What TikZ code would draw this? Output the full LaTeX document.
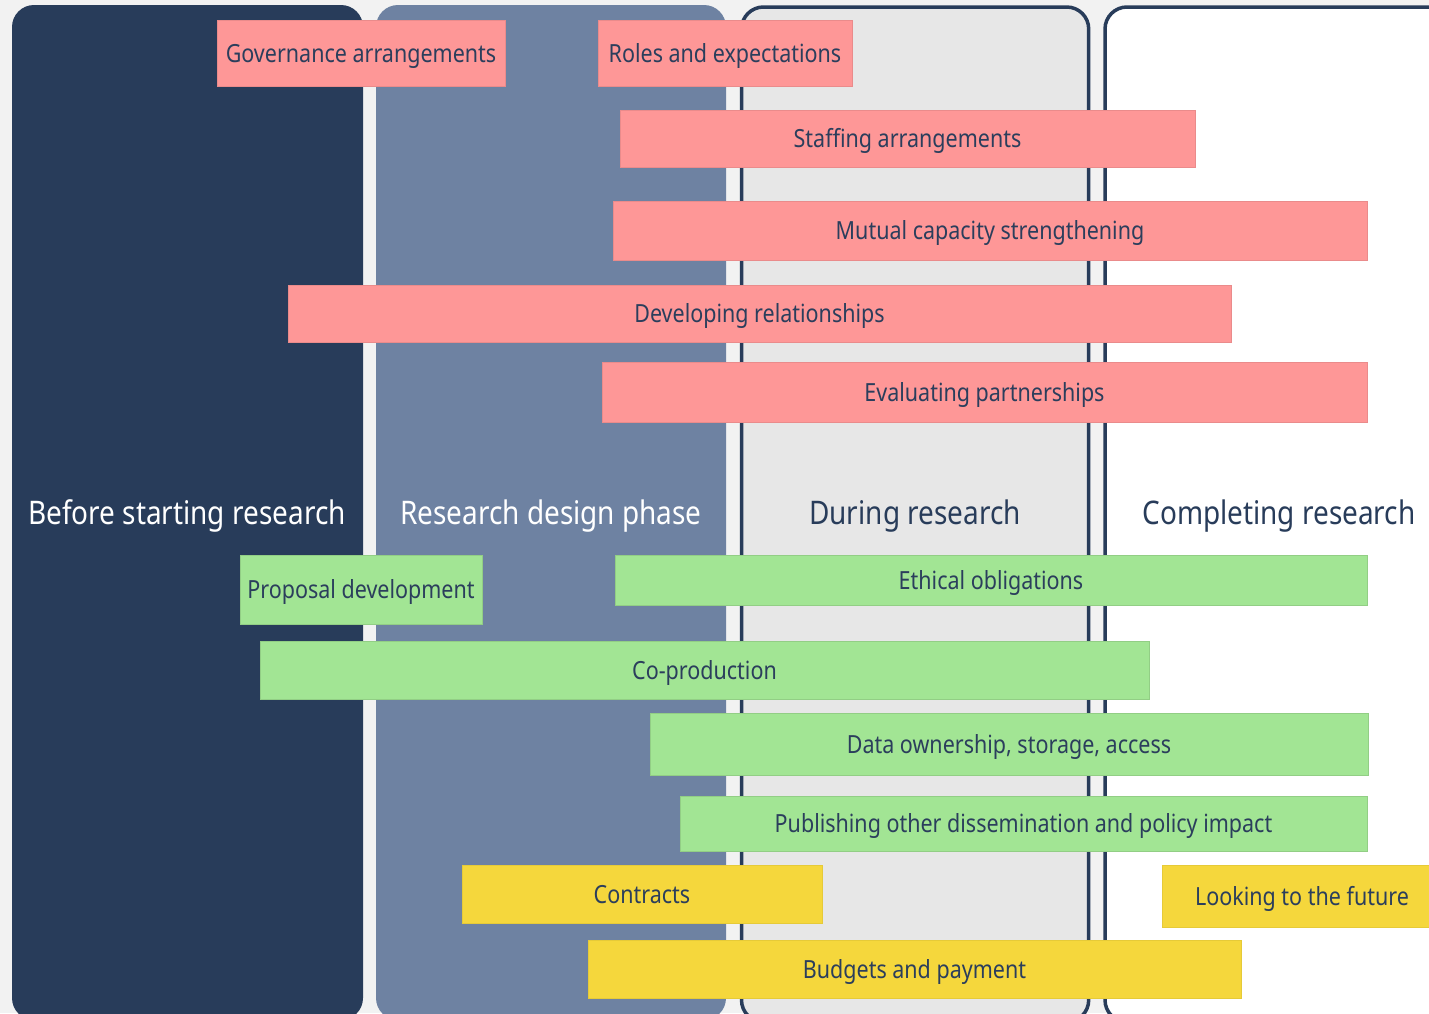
\documentclass[tikz,border=0pt]{standalone}
\usepackage{fontspec}
\setmainfont{Noto Sans}[FakeStretch=0.86]
\usepackage{tikz}

\definecolor{navy}{HTML}{283C5A}
\definecolor{slate}{HTML}{6E82A2}
\definecolor{lightgrey}{HTML}{E7E7E7}
\definecolor{bgrey}{HTML}{F2F2F2}
\definecolor{pinkfill}{HTML}{FE9797}
\definecolor{greenfill}{HTML}{A2E594}
\definecolor{yellowfill}{HTML}{F5D73C}
\definecolor{inktext}{HTML}{2B3E5C}

\begin{document}
\begin{tikzpicture}[x=1pt,y=-1pt,
    bar/.style={rectangle, inner sep=0pt, text=inktext, text height=18pt, text depth=0pt,
        font=\fontsize{25}{28}\selectfont},
    pinkbar/.style={bar, fill=pinkfill, draw=pinkfill!92!black, line width=0.6pt},
    greenbar/.style={bar, fill=greenfill, draw=greenfill!90!black, line width=0.6pt},
    yellowbar/.style={bar, fill=yellowfill, draw=yellowfill!94!black, line width=0.6pt},
    heading/.style={anchor=base, font=\fontsize{32.5}{36}\selectfont}]
        % background and the four phases
        \fill [bgrey] (0,0) rectangle (1429,1013);
        \useasboundingbox (0,0) rectangle (1429,1013);
        \fill [navy, rounded corners=22] (12,5) rectangle (363,1020);
        \fill [slate, rounded corners=22] (376,5) rectangle (726,1020);
        \draw [navy, fill=lightgrey, line width=3.5, rounded corners=22] (741.5,7) rectangle (1088.7,1022);
        \draw [navy, fill=white, line width=3.5, rounded corners=22] (1105,7) rectangle (1460,1022);
        \node[heading, text=white] (before) at (187,524) {Before starting research};
        \node[heading, text=white] (design) at (551,524) {Research design phase};
        \node[heading, text=navy] (during) at (915,524) {During research};
        \node[heading, text=navy] (complete) at (1279,524) {Completing research};
        % partnership bars
        \node[pinkbar, minimum width=288, minimum height=66] (governance) at (361,53) {Governance arrangements};
        \node[pinkbar, minimum width=254, minimum height=66] (roles) at (725,53) {Roles and expectations};
        \node[pinkbar, minimum width=575, minimum height=57] (staffing) at (907.5,138.5) {Staffing arrangements};
        \node[pinkbar, minimum width=754, minimum height=59] (mutual) at (990,230.5) {Mutual capacity strengthening};
        \node[pinkbar, minimum width=943, minimum height=57] (relations) at (759.5,313.5) {Developing relationships};
        \node[pinkbar, minimum width=765, minimum height=60] (evaluating) at (984.5,392) {Evaluating partnerships};
        % research bars
        \node[greenbar, minimum width=242, minimum height=69] (proposal) at (361,589.5) {Proposal development};
        \node[greenbar, minimum width=752, minimum height=50] (ethical) at (991,580) {Ethical obligations};
        \node[greenbar, minimum width=889, minimum height=58] (coprod) at (704.5,670) {Co-production};
        \node[greenbar, minimum width=718, minimum height=62] (data) at (1009,744) {Data ownership, storage, access};
        \node[greenbar, minimum width=687, minimum height=55] (publishing) at (1023.5,823.5) {Publishing other dissemination and policy impact};
        % money bars
        \node[yellowbar, minimum width=360, minimum height=58] (contracts) at (642,894) {Contracts};
        \node[yellowbar, minimum width=280, minimum height=62] (future) at (1302,896) {Looking to the future};
        \node[yellowbar, minimum width=653, minimum height=58] (budgets) at (914.5,969) {Budgets and payment};
\end{tikzpicture}
\end{document}
